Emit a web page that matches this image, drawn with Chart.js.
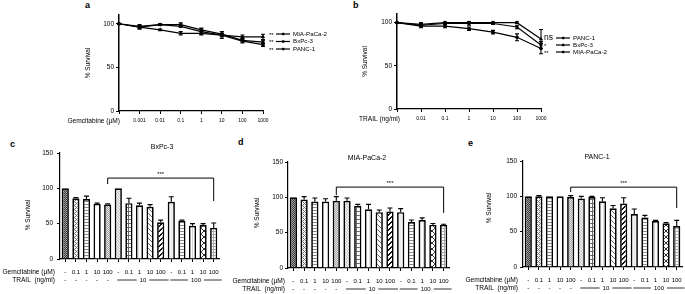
<!DOCTYPE html>
<html>
<head>
<meta charset="utf-8">
<script src="https://cdn.jsdelivr.net/npm/chart.js@4.4.1/dist/chart.umd.min.js"></script>
<style>
  html, body { margin: 0; padding: 0; background: #fff; width: 685px; height: 294px; overflow: hidden; }
  .panel { position: absolute; }
  .tag { position: absolute; font: bold 9px "Liberation Sans", Arial, sans-serif; color: #000; line-height: 1; }
</style>
</head>
<body>
<div class="tag" style="left:85px;top:1px">a</div>
<div class="tag" style="left:353px;top:1px">b</div>
<div class="tag" style="left:10px;top:140px">c</div>
<div class="tag" style="left:238px;top:138px">d</div>
<div class="tag" style="left:468px;top:139px">e</div>
<div class="panel" style="left:0;top:0"><canvas id="chartA" width="340" height="135"></canvas></div>
<div class="panel" style="left:340px;top:0"><canvas id="chartB" width="345" height="135"></canvas></div>
<div class="panel" style="left:0;top:135px"><canvas id="chartC" width="228" height="159"></canvas></div>
<div class="panel" style="left:228px;top:135px"><canvas id="chartD" width="228" height="159"></canvas></div>
<div class="panel" style="left:456px;top:135px"><canvas id="chartE" width="229" height="159"></canvas></div>
<script>
// panel a: gemcitabine dose response
const gemDoses = ['', '0.001', '0.01', '0.1', '1', '10', '100', '1000'];
const gemMia = [100, 96, 93, 89, 89, 87, 85, 85];
const gemMiaErr = [0, 2, 1, 2, 2, 2, 2, 3];
const gemBx = [100, 97, 99, 99, 93, 88, 81, 79];
const gemBxErr = [0, 2, 1, 2, 2, 3, 2, 2];
const gemPanc = [100, 96, 99, 97, 91, 87, 80, 76];
const gemPancErr = [0, 2, 1, 1, 3, 4, 2, 2];

// panel b: TRAIL dose response
const trailDoses = ['', '0.01', '0.1', '1', '10', '100', '1000'];
const trailPanc = [100, 98, 100, 100, 100, 100, 81];
const trailPancErr = [0, 2, 1, 1, 1, 1, 11];
const trailBx = [100, 97, 99, 99, 99, 95, 74];
const trailBxErr = [0, 2, 1, 2, 1, 2, 4];
const trailMia = [100, 96, 96, 93, 89, 83, 70];
const trailMiaErr = [0, 2, 2, 2, 2, 4, 6];

// panels c-e: combinations
const comboGem = ['-', '0.1', '1', '10', '100', '-', '0.1', '1', '10', '100', '-', '0.1', '1', '10', '100'];
const comboTrail = ['-', '-', '-', '-', '-', '10', '10', '10', '10', '10', '100', '100', '100', '100', '100'];
const comboBx = [100, 86, 85, 78, 77, 100, 79, 76, 74, 52, 81, 54, 47, 48, 44];
const comboBxErr = [0, 1, 4, 1, 1, 0, 7, 3, 3, 3, 7, 1, 3, 2, 7];
const comboMia = [100, 97, 94, 94, 95, 95, 88, 83, 79, 80, 79, 65, 68, 61, 61];
const comboMiaErr = [0, 4, 5, 4, 6, 4, 2, 7, 3, 5, 5, 3, 3, 2, 1];
const comboPanc = [100, 100, 100, 100, 99, 97, 99, 93, 83, 90, 75, 70, 65, 62, 58];
const comboPancErr = [0, 1, 0, 0, 2, 3, 1, 5, 4, 8, 7, 3, 1, 1, 8];

const FONT = '"Liberation Sans", Arial, sans-serif';

function makePattern(w, h, bg, fg, on) {
  const c = document.createElement('canvas');
  c.width = w; c.height = h;
  const g = c.getContext('2d');
  g.fillStyle = bg; g.fillRect(0, 0, w, h);
  g.fillStyle = fg;
  for (let y = 0; y < h; y++) for (let x = 0; x < w; x++) if (on(x, y)) g.fillRect(x, y, 1, 1);
  return g.createPattern(c, 'repeat');
}

const fills = [
  makePattern(2, 2, '#a0a0a0', '#3a3a3a', (x, y) => (x + y) % 2 === 0),
  makePattern(4, 4, '#f4f4f4', '#777', (x, y) => (x + y) % 4 === 0 || (x - y + 4) % 4 === 0),
  makePattern(1, 3, '#fff', '#888', (x, y) => y === 0),
  '#ffffff',
  makePattern(2, 2, '#e2e2e2', '#a4a4a4', (x, y) => x === y),
  makePattern(3, 3, '#eeeeee', '#bdbdbd', (x, y) => x === y),
  makePattern(4, 4, '#fff', '#666', (x, y) => x === 0 || y === 0),
  makePattern(3, 1, '#fff', '#e0e0e0', (x) => x === 0),
  makePattern(5, 5, '#fff', '#666', (x, y) => x === y),
  makePattern(5, 5, '#fff', '#111', (x, y) => (x + y) % 5 === 0 || (x + y) % 5 === 4),
  '#efefef',
  makePattern(1, 3, '#fff', '#888', (x, y) => y === 0),
  makePattern(3, 1, '#fff', '#d6d6d6', (x) => x === 0),
  makePattern(6, 6, '#fff', '#333', (x, y) => x === y || x + y === 5),
  makePattern(3, 3, '#fff', '#aaa', (x, y) => x === 0 || y === 0)
];

function drawErrors(chart, errs, both, cap) {
  const ctx = chart.ctx, y = chart.scales.y;
  ctx.save();
  ctx.strokeStyle = '#000';
  ctx.lineWidth = 1.1;
  chart.data.datasets.forEach((ds, di) => {
    chart.getDatasetMeta(di).data.forEach((el, i) => {
      const e = errs[di][i];
      if (!e) return;
      const v = ds.data[i];
      const top = y.getPixelForValue(v + e);
      const bot = both ? y.getPixelForValue(v - e) : el.y;
      ctx.beginPath();
      ctx.moveTo(el.x, bot); ctx.lineTo(el.x, top);
      ctx.moveTo(el.x - cap, top); ctx.lineTo(el.x + cap, top);
      if (both) { ctx.moveTo(el.x - cap, bot); ctx.lineTo(el.x + cap, bot); }
      ctx.stroke();
    });
  });
  ctx.restore();
}

function yTitle(ctx, x, y) {
  ctx.save();
  ctx.translate(x, y);
  ctx.rotate(-Math.PI / 2);
  ctx.font = '6.5px ' + FONT;
  ctx.fillStyle = '#000';
  ctx.textAlign = 'center';
  ctx.textBaseline = 'middle';
  ctx.fillText('% Survival', 0, 0);
  ctx.restore();
}

// ---------- line charts (a, b) ----------
function lineChart(id, labels, series, lay) {
  const styles = ['triangle', 'rect', 'circle'];
  return new Chart(document.getElementById(id), {
    type: 'line',
    data: {
      labels: labels,
      datasets: series.map((s, k) => ({
        label: s.name, data: s.data,
        borderColor: '#000', backgroundColor: '#000', borderWidth: 1.2,
        pointRadius: 1.2, pointStyle: styles[k], tension: 0, fill: false
      }))
    },
    options: {
      responsive: false, animation: false,
      layout: { padding: { left: lay.padL, right: lay.padR, top: lay.padT, bottom: lay.padB } },
      plugins: { legend: { display: false }, tooltip: { enabled: false } },
      scales: {
        x: {
          offset: false,
          grid: { drawOnChartArea: false, offset: false, tickLength: 3, color: '#000' },
          border: { color: '#000', width: 1.2 },
          ticks: { font: { family: FONT, size: 5 }, color: '#000', padding: 4, maxRotation: 0, autoSkip: false },
          afterFit: s => { s.height = 20; }
        },
        y: {
          min: 0, max: 110,
          ticks: { stepSize: 50, includeBounds: false, font: { family: FONT, size: 6.5 }, color: '#000', padding: 2 },
          grid: { drawOnChartArea: false, tickLength: 3, color: '#000' },
          border: { color: '#000', width: 1.5 },
          afterFit: s => { s.width = lay.yW; }
        }
      }
    },
    plugins: [{
      id: 'deco',
      afterDatasetsDraw(chart) {
        const ctx = chart.ctx, a = chart.chartArea;
        drawErrors(chart, series.map(s => s.err), true, 2);
        ctx.save();
        ctx.fillStyle = '#000';
        ctx.strokeStyle = '#000';
        ctx.textBaseline = 'middle';
        // x axis name at the control position
        ctx.font = '6.6px ' + FONT;
        ctx.textAlign = 'right';
        ctx.fillText(lay.xName, a.left + lay.xNameDx, a.bottom + 10);
        // legend with significance marks
        series.forEach((s, k) => {
          const y = lay.legY[k];
          ctx.textAlign = 'left';
          ctx.font = (s.sig === 'ns' ? '8.5px ' : '6px ') + FONT;
          ctx.fillText(s.sig, a.right + lay.sigDx, y + (s.sig === 'ns' ? 0 : 1));
          ctx.lineWidth = 1.2;
          ctx.beginPath();
          ctx.moveTo(a.right + lay.lineDx, y);
          ctx.lineTo(a.right + lay.lineDx + 14, y);
          ctx.stroke();
          ctx.fillRect(a.right + lay.lineDx + 6, y - 1.2, 2.4, 2.4);
          ctx.font = '6.2px ' + FONT;
          ctx.fillText(s.name, a.right + lay.lineDx + 17, y);
        });
        ctx.restore();
        yTitle(ctx, lay.titleX, (a.top + a.bottom) / 2);
      }
    }]
  });
}

lineChart('chartA', gemDoses, [
  { name: 'MIA-PaCa-2', sig: '**', data: gemMia, err: gemMiaErr },
  { name: 'BxPc-3', sig: '**', data: gemBx, err: gemBxErr },
  { name: 'PANC-1', sig: '**', data: gemPanc, err: gemPancErr }
], { padL: 90, yW: 29, padR: 77, padT: 15, padB: 4, xName: 'Gemcitabine (\u00b5M)', xNameDx: 1,
     legY: [34, 41.5, 49], sigDx: 6, lineDx: 13, titleX: 88 });

lineChart('chartB', trailDoses, [
  { name: 'PANC-1', sig: 'ns', data: trailPanc, err: trailPancErr },
  { name: 'BxPc-3', sig: '*', data: trailBx, err: trailBxErr },
  { name: 'MIA-PaCa-2', sig: '**', data: trailMia, err: trailMiaErr }
], { padL: 30, yW: 27, padR: 144, padT: 14, padB: 6, xName: 'TRAIL (ng/ml)', xNameDx: 3,
     legY: [38, 45, 52], sigDx: 3, lineDx: 15, titleX: 25 });

// ---------- bar charts (c, d, e) ----------
function barChart(id, values, errs, lay) {
  return new Chart(document.getElementById(id), {
    type: 'bar',
    data: {
      labels: comboGem,
      datasets: [{
        data: values, backgroundColor: fills, borderColor: '#000', borderWidth: 1.7,
        barPercentage: 0.68, categoryPercentage: 1
      }]
    },
    options: {
      responsive: false, animation: false,
      layout: { padding: { left: lay.padL, right: lay.padR, top: lay.padT, bottom: lay.padB } },
      plugins: { legend: { display: false }, tooltip: { enabled: false } },
      scales: {
        x: {
          grid: { drawOnChartArea: false, offset: false, tickLength: 3, color: '#000' },
          border: { color: '#000', width: 1.2 },
          ticks: { display: false },
          afterFit: s => { s.height = 6; }
        },
        y: {
          min: 0, max: 150,
          ticks: { stepSize: 50, font: { family: FONT, size: 6.5 }, color: '#000', padding: lay.tickPad },
          grid: { drawOnChartArea: false, tickLength: 3, color: '#000' },
          border: { color: '#000', width: 1.2 },
          afterFit: s => { s.width = lay.yW; }
        }
      }
    },
    plugins: [{
      id: 'deco',
      afterDatasetsDraw(chart) {
        const ctx = chart.ctx, a = chart.chartArea, x = chart.scales.x, y = chart.scales.y;
        drawErrors(chart, [errs], false, 2.5);
        ctx.save();
        ctx.fillStyle = '#000';
        ctx.strokeStyle = '#000';
        ctx.textBaseline = 'middle';
        // title
        ctx.font = '7px ' + FONT;
        ctx.textAlign = 'center';
        ctx.fillText(lay.title, lay.titleCx, lay.titleCy);
        // significance bracket
        const b = lay.bracket;
        const x0 = x.getPixelForValue(b.from), x1 = x.getPixelForValue(b.to);
        const yb = y.getPixelForValue(b.at);
        ctx.lineWidth = 1;
        ctx.beginPath();
        ctx.moveTo(x0, y.getPixelForValue(b.leftEnd));
        ctx.lineTo(x0, yb);
        ctx.lineTo(x1, yb);
        ctx.lineTo(x1, y.getPixelForValue(b.rightEnd));
        ctx.stroke();
        ctx.font = '6px ' + FONT;
        ctx.fillText('***', (x0 + x1) / 2, yb - 4);
        // treatment rows
        const r1 = a.bottom + 13, r2 = a.bottom + 21;
        ctx.font = '6px ' + FONT;
        comboGem.forEach((g, i) => ctx.fillText(g, x.getPixelForValue(i), r1));
        let i = 0;
        ctx.lineWidth = 0.8;
        while (i < comboTrail.length) {
          const t = comboTrail[i];
          if (t === '-') { ctx.fillText('-', x.getPixelForValue(i), r2); i++; continue; }
          let j = i;
          while (j + 1 < comboTrail.length && comboTrail[j + 1] === t) j++;
          const s = x.getPixelForValue(i) - 1, e = x.getPixelForValue(j) + 8;
          const m = (s + e) / 2, w = ctx.measureText(t).width / 2 + 3;
          ctx.fillText(t, m, r2);
          ctx.beginPath();
          ctx.moveTo(s, r2); ctx.lineTo(m - w, r2);
          ctx.moveTo(m + w, r2); ctx.lineTo(e, r2);
          ctx.stroke();
          i = j + 1;
        }
        ctx.font = '6.6px ' + FONT;
        ctx.textAlign = 'right';
        ctx.fillText('Gemcitabine (\u00b5M)', a.left - lay.rowGap, r1);
        ctx.fillText('TRAIL  (ng/ml)', a.left - lay.rowGap, r2);
        ctx.restore();
        yTitle(ctx, lay.titleX, lay.titleY);
      }
    }]
  });
}

barChart('chartC', comboBx, comboBxErr, {
  padL: 30, yW: 30, padR: 9, padT: 18, padB: 29, tickPad: 4, rowGap: 5,
  title: 'BxPc-3', titleCx: 162, titleCy: 12, titleX: 28, titleY: 80,
  bracket: { from: 4, to: 14, at: 114.5, leftEnd: 106, rightEnd: 82 }
});
barChart('chartD', comboMia, comboMiaErr, {
  padL: 30, yW: 30, padR: 7, padT: 27, padB: 20, tickPad: 2, rowGap: 3,
  title: 'MIA-PaCa-2', titleCx: 139, titleCy: 23, titleX: 29, titleY: 78,
  bracket: { from: 4, to: 14, at: 114.5, leftEnd: 103, rightEnd: 78 }
});
barChart('chartE', comboPanc, comboPancErr, {
  padL: 37, yW: 30, padR: 3, padT: 26, padB: 21, tickPad: 3, rowGap: 5,
  title: 'PANC-1', titleCx: 141, titleCy: 22, titleX: 33, titleY: 73,
  bracket: { from: 4, to: 14, at: 113, leftEnd: 106, rightEnd: 83.5 }
});
</script>
</body>
</html>
